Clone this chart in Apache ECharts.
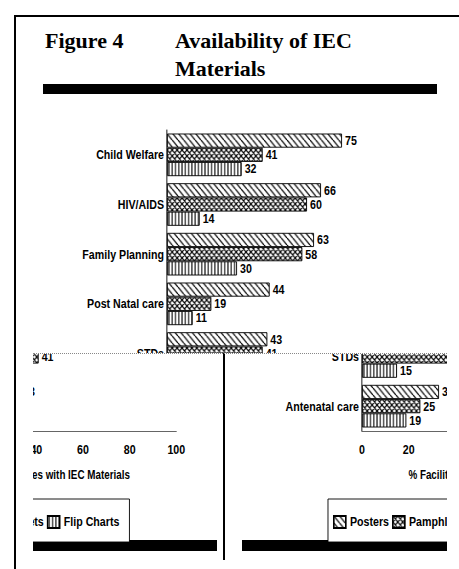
<!DOCTYPE html>
<html lang="en">
<head>
<meta charset="utf-8">
<script type="text/javascript" src="https://cdn.jsdelivr.net/npm/echarts@6/dist/echarts.min.js"></script>
<style>
    body { margin: 0; background: #fff; }
    #page { position: relative; width: 459px; height: 569px; overflow: hidden; background: #fff; }
    .win { position: absolute; overflow: hidden; }
    /* the printed figure uses a narrow sans, so the chart is squeezed sideways */
    .fig { position: absolute; width: 560px; height: 569px; transform: scaleX(0.82); transform-origin: 0 0; }
    .line { position: absolute; background: #000; }
</style>
</head>
<body>
<div id="page">
    <!-- the scan shows one figure, cut into three pieces -->
    <div class="win" style="left:17px;top:17px;width:442px;height:336px"><div class="fig" id="figTop" style="left:-17px;top:-17px"></div></div>
    <div class="win" style="left:33px;top:354px;width:189px;height:215px"><div class="fig" id="figLeft" style="left:-257px;top:-351px"></div></div>
    <div class="win" style="left:242px;top:354px;width:205px;height:215px"><div class="fig" id="figRight" style="left:-47px;top:-351px"></div></div>
    <div class="line" style="left:14px;top:15px;width:2px;height:554px"></div>
    <div class="line" style="left:14px;top:15px;width:445px;height:2px"></div>
    <div class="line" style="left:223px;top:353px;width:2px;height:207px"></div>
    <div style="position:absolute;left:33px;top:353px;width:414px;height:0;border-top:1px dotted #888"></div>
</div>
<script type="text/javascript">
    var categories = ['Child Welfare', 'HIV/AIDS', 'Family Planning', 'Post Natal care', 'STDs', 'Antenatal care'];
    var posters = [75, 66, 63, 44, 43, 33];
    var pamphlets = [41, 60, 58, 19, 41, 25];
    var flipCharts = [32, 14, 30, 11, 15, 19];
    var seriesNames = ['Posters', 'Pamphlets', 'Flip Charts'];

    var K = 0.82;
    function fx(x) { return x / K; }

    var sansFont = "'Liberation Sans', Arial, sans-serif";
    var serifFont = "'Liberation Serif', 'Times New Roman', serif";

    // what each piece of the cut-up figure lets through (value label rows per series)
    var pieces = {
        figTop:   {top: true,  bottom: false, rows: [[0, 1, 2, 3, 4], [0, 1, 2, 3, 4], [0, 1, 2, 3]], catRows: [0, 1, 2, 3, 4], ticks: []},
        figLeft:  {top: false, bottom: true,  rows: [[5], [4], []], catRows: [], ticks: [40, 60, 80, 100]},
        figRight: {top: false, bottom: true,  rows: [[5], [4, 5], [4, 5]], catRows: [4, 5], ticks: [0, 20]}
    };

    // hatch fills, like the printed figure
    function makePattern(kind) {
        var s = kind === 'flip' ? 4 : (kind === 'cross' ? 6 : 7);
        var c = document.createElement('canvas');
        c.width = s;
        c.height = s;
        var g = c.getContext('2d');
        g.fillStyle = '#fff';
        g.fillRect(0, 0, s, s);
        g.strokeStyle = '#000';
        g.lineWidth = 1.3;
        g.beginPath();
        if (kind === 'flip') {
            g.moveTo(2, 0);
            g.lineTo(2, s);
        } else {
            for (var k = -1; k <= 1; k++) {
                g.moveTo(k * s, 0);
                g.lineTo(k * s + s, s);
                if (kind === 'cross') {
                    g.moveTo(k * s + s, 0);
                    g.lineTo(k * s, s);
                }
            }
        }
        g.stroke();
        return {image: c, repeat: 'repeat', imageWidth: s, imageHeight: s};
    }

    function barSeries(name, data, pattern, rows) {
        return {
            name: name,
            type: 'bar',
            data: data,
            barGap: '0%',
            barCategoryGap: '14%',
            itemStyle: {
                color: pattern,
                borderColor: '#000',
                borderWidth: 1
            },
            label: {
                show: true,
                position: 'right',
                distance: fx(3),
                color: '#000',
                fontFamily: sansFont,
                fontWeight: 'bold',
                fontSize: 13,
                formatter: function (p) {
                    return rows.indexOf(p.dataIndex) >= 0 ? String(p.value) : '';
                }
            },
            emphasis: {disabled: true}
        };
    }

    function titleText(text, x) {
        // title is set in a normal-width serif, so undo the squeeze
        return {
            type: 'text',
            x: fx(x),
            y: 27,
            scaleX: 1 / K,
            style: {text: text, fill: '#000', fontFamily: serifFont, fontWeight: 'bold', fontSize: 22, lineHeight: 28}
        };
    }

    function makeOption(piece) {
        var graphic = [];
        if (piece.top) {
            graphic.push(titleText('Figure 4', 45));
            graphic.push(titleText('Availability of IEC\nMaterials', 175));
            graphic.push({type: 'rect', shape: {x: fx(43), y: 84, width: fx(394), height: 10}, style: {fill: '#000'}});
        }
        if (piece.bottom) {
            graphic.push({type: 'rect', shape: {x: fx(45), y: 537, width: fx(396), height: 11}, style: {fill: '#000'}});
        }
        return {
            animation: false,
            backgroundColor: '#fff',
            graphic: graphic,
            legend: {
                show: piece.bottom,
                data: seriesNames,
                left: fx(133),
                top: 496,
                padding: [16, fx(10), 13, fx(5)],
                itemWidth: fx(12),
                itemHeight: 12,
                itemGap: fx(3),
                icon: 'rect',
                backgroundColor: '#fff',
                borderColor: '#000',
                borderWidth: 1,
                borderRadius: 0,
                textStyle: {fontFamily: sansFont, fontWeight: 'bold', fontSize: 13, color: '#000'}
            },
            grid: {left: fx(167), top: 130, width: fx(233.3), height: 298, containLabel: false},
            xAxis: {
                type: 'value',
                min: 0,
                max: 100,
                interval: 20,
                splitLine: {show: false},
                axisTick: {show: false},
                axisLine: {show: true, lineStyle: {color: '#555', width: 1}},
                axisLabel: {
                    show: piece.bottom,
                    margin: 12,
                    color: '#000',
                    fontFamily: sansFont,
                    fontWeight: 'bold',
                    fontSize: 13,
                    formatter: function (v) {
                        return piece.ticks.indexOf(v) >= 0 ? String(v) : '';
                    }
                },
                name: piece.bottom ? '% Facilities with IEC Materials' : '',
                nameLocation: 'middle',
                nameGap: 38,
                nameTextStyle: {fontFamily: sansFont, fontWeight: 'bold', fontSize: 12, color: '#000'}
            },
            yAxis: {
                type: 'category',
                inverse: true,
                data: categories,
                axisTick: {show: false},
                axisLine: {show: true, lineStyle: {color: '#000', width: 1}},
                axisLabel: {
                    margin: fx(3),
                    color: '#000',
                    fontFamily: sansFont,
                    fontWeight: 'bold',
                    fontSize: 13,
                    formatter: function (v, i) {
                        return piece.catRows.indexOf(i) >= 0 ? v : '';
                    }
                }
            },
            series: [
                barSeries(seriesNames[0], posters, makePattern('diag'), piece.rows[0]),
                barSeries(seriesNames[1], pamphlets, makePattern('cross'), piece.rows[1]),
                barSeries(seriesNames[2], flipCharts, makePattern('flip'), piece.rows[2])
            ]
        };
    }

    Object.keys(pieces).forEach(function (id) {
        var chart = echarts.init(document.getElementById(id), null, {renderer: 'svg'});
        chart.setOption(makeOption(pieces[id]));
    });
</script>
</body>
</html>
